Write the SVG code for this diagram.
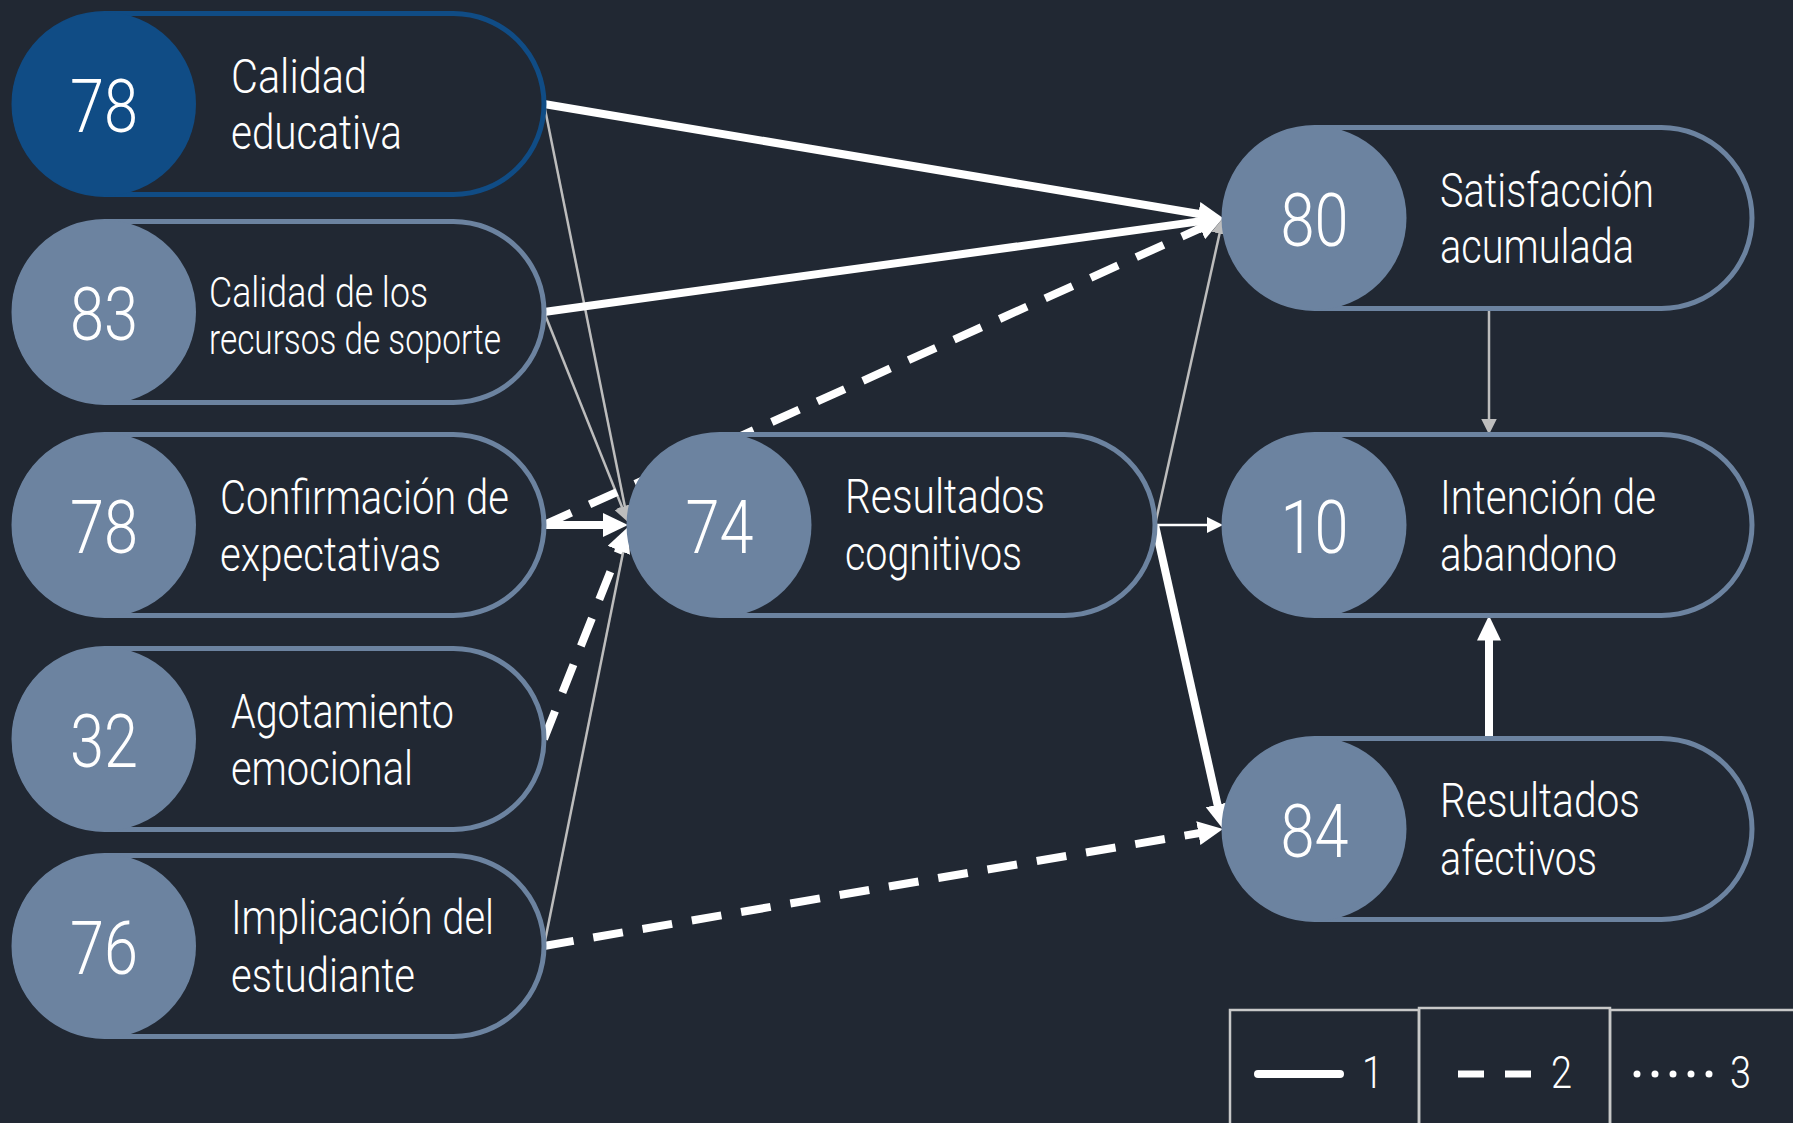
<svg xmlns="http://www.w3.org/2000/svg" width="1793" height="1123" viewBox="0 0 1793 1123">
<defs>
<style>
.pill{fill:#212833;stroke:#6C83A0;stroke-width:5}
.pill.hl{stroke:#104C85}
.dot{fill:#6C83A0}
.dot.hl{fill:#104C85}
.num{font-family:Roboto,"Liberation Sans",sans-serif;font-weight:300;font-size:74px;fill:#fff;text-anchor:middle}
.lbl{font-family:Roboto,"Liberation Sans",sans-serif;font-weight:300;font-size:48px;fill:#fff}
.lbl.sm{font-size:42px}
.thick{stroke:#fff;stroke-width:8;fill:none;marker-end:url(#ah)}
.dash{stroke-dasharray:30 20}
.thin{stroke:#fff;stroke-width:2.5;fill:none;marker-end:url(#aw)}
.gray{stroke:#BDBDBD;stroke-width:2.5;fill:none;marker-end:url(#ag)}
.leg{fill:none;stroke:#C8C8C8;stroke-width:2.5}
.legt{font-family:Roboto,"Liberation Sans",sans-serif;font-weight:300;font-size:45px;fill:#fff}
</style>
<marker id="ah" markerUnits="userSpaceOnUse" markerWidth="25" markerHeight="24" refX="10" refY="12" orient="auto"><path d="M0,0 L25,12 L0,24 z" fill="#fff"/></marker>
<marker id="aw" markerUnits="userSpaceOnUse" markerWidth="16" markerHeight="16" refX="8" refY="8" orient="auto"><path d="M0,0 L16,8 L0,16 z" fill="#fff"/></marker>
<marker id="ag" markerUnits="userSpaceOnUse" markerWidth="16" markerHeight="16" refX="8" refY="8" orient="auto"><path d="M0,0 L16,8 L0,16 z" fill="#BDBDBD"/></marker>
</defs>
<rect x="0" y="0" width="1793" height="1123" fill="#212833"/>
<g id="connectors">
<line class="gray" x1="544" y1="104" x2="626.4" y2="514.2"/>
<line class="gray" x1="544" y1="312" x2="625" y2="514.6"/>
<line class="gray" x1="544" y1="946" x2="626.4" y2="535.8"/>
<line class="gray" x1="1155" y1="525" x2="1221.3" y2="225.8"/>
<line class="gray" x1="1489" y1="308" x2="1489" y2="426.5"/>
<line class="thick" x1="544" y1="104" x2="1208.2" y2="215.5"/>
<line class="thick" x1="544" y1="312" x2="1208.1" y2="220.1"/>
<line class="thick dash" x1="544" y1="525" x2="1209.3" y2="224.2"/>
<line class="thick" x1="544" y1="525" x2="613" y2="525"/>
<line class="thick dash" x1="544" y1="739" x2="622.5" y2="541"/>
<line class="thin" x1="1155" y1="525" x2="1215" y2="525"/>
<line class="thick" x1="1155" y1="525" x2="1219.7" y2="814.4"/>
<line class="thick dash" x1="544" y1="946" x2="1208.2" y2="831.5"/>
<line class="thick" x1="1489" y1="738" x2="1489" y2="630.5"/>
</g>
<g id="n-calidad-educativa">
<rect class="pill hl" x="14" y="13.5" width="530" height="181" rx="90.5"/>
<circle class="dot hl" cx="104" cy="104" r="92"/>
<text class="num" x="104" y="132" textLength="68" lengthAdjust="spacingAndGlyphs">78</text>
<text class="lbl" x="231" y="93" textLength="136" lengthAdjust="spacingAndGlyphs">Calidad</text>
<text class="lbl" x="231" y="149" textLength="171" lengthAdjust="spacingAndGlyphs">educativa</text>
</g>
<g id="n-calidad-recursos">
<rect class="pill" x="14" y="221.5" width="530" height="181" rx="90.5"/>
<circle class="dot" cx="104" cy="312" r="92"/>
<text class="num" x="104" y="340" textLength="68" lengthAdjust="spacingAndGlyphs">83</text>
<text class="lbl sm" x="209" y="307" textLength="219" lengthAdjust="spacingAndGlyphs">Calidad de los</text>
<text class="lbl sm" x="209" y="354" textLength="292" lengthAdjust="spacingAndGlyphs">recursos de soporte</text>
</g>
<g id="n-confirmacion">
<rect class="pill" x="14" y="434.5" width="530" height="181" rx="90.5"/>
<circle class="dot" cx="104" cy="525" r="92"/>
<text class="num" x="104" y="553" textLength="68" lengthAdjust="spacingAndGlyphs">78</text>
<text class="lbl" x="220" y="514" textLength="289" lengthAdjust="spacingAndGlyphs">Confirmación de</text>
<text class="lbl" x="220" y="571" textLength="221" lengthAdjust="spacingAndGlyphs">expectativas</text>
</g>
<g id="n-agotamiento">
<rect class="pill" x="14" y="648.5" width="530" height="181" rx="90.5"/>
<circle class="dot" cx="104" cy="739" r="92"/>
<text class="num" x="104" y="767" textLength="68" lengthAdjust="spacingAndGlyphs">32</text>
<text class="lbl" x="231" y="728" textLength="223" lengthAdjust="spacingAndGlyphs">Agotamiento</text>
<text class="lbl" x="231" y="785" textLength="182" lengthAdjust="spacingAndGlyphs">emocional</text>
</g>
<g id="n-implicacion">
<rect class="pill" x="14" y="855.5" width="530" height="181" rx="90.5"/>
<circle class="dot" cx="104" cy="946" r="92"/>
<text class="num" x="104" y="974" textLength="68" lengthAdjust="spacingAndGlyphs">76</text>
<text class="lbl" x="231" y="934" textLength="263" lengthAdjust="spacingAndGlyphs">Implicación del</text>
<text class="lbl" x="231" y="992" textLength="184" lengthAdjust="spacingAndGlyphs">estudiante</text>
</g>
<g id="n-resultados-cognitivos">
<rect class="pill" x="629" y="434.5" width="526" height="181" rx="90.5"/>
<circle class="dot" cx="719.5" cy="525" r="92"/>
<text class="num" x="719.5" y="553" textLength="68" lengthAdjust="spacingAndGlyphs">74</text>
<text class="lbl" x="845" y="513" textLength="200" lengthAdjust="spacingAndGlyphs">Resultados</text>
<text class="lbl" x="845" y="570" textLength="177" lengthAdjust="spacingAndGlyphs">cognitivos</text>
</g>
<g id="n-satisfaccion">
<rect class="pill" x="1224" y="127.5" width="528" height="181" rx="90.5"/>
<circle class="dot" cx="1314.5" cy="218" r="92"/>
<text class="num" x="1314.5" y="246" textLength="68" lengthAdjust="spacingAndGlyphs">80</text>
<text class="lbl" x="1440" y="207" textLength="214" lengthAdjust="spacingAndGlyphs">Satisfacción</text>
<text class="lbl" x="1440" y="263" textLength="194" lengthAdjust="spacingAndGlyphs">acumulada</text>
</g>
<g id="n-intencion">
<rect class="pill" x="1224" y="434.5" width="528" height="181" rx="90.5"/>
<circle class="dot" cx="1314.5" cy="525" r="92"/>
<text class="num" x="1314.5" y="553" textLength="68" lengthAdjust="spacingAndGlyphs">10</text>
<text class="lbl" x="1440" y="514" textLength="216" lengthAdjust="spacingAndGlyphs">Intención de</text>
<text class="lbl" x="1440" y="571" textLength="177" lengthAdjust="spacingAndGlyphs">abandono</text>
</g>
<g id="n-resultados-afectivos">
<rect class="pill" x="1224" y="738.5" width="528" height="181" rx="90.5"/>
<circle class="dot" cx="1314.5" cy="829" r="92"/>
<text class="num" x="1314.5" y="857" textLength="68" lengthAdjust="spacingAndGlyphs">84</text>
<text class="lbl" x="1440" y="817" textLength="200" lengthAdjust="spacingAndGlyphs">Resultados</text>
<text class="lbl" x="1440" y="875" textLength="157" lengthAdjust="spacingAndGlyphs">afectivos</text>
</g>
<g id="legend">
<rect class="leg" x="1230" y="1010" width="189" height="130"/>
<rect class="leg" x="1419" y="1008" width="191" height="132"/>
<rect class="leg" x="1610" y="1010" width="200" height="130"/>
<line x1="1258" y1="1074" x2="1340" y2="1074" stroke="#fff" stroke-width="8" stroke-linecap="round"/>
<text class="legt" x="1362" y="1088" textLength="21" lengthAdjust="spacingAndGlyphs">1</text>
<line x1="1458" y1="1074" x2="1531" y2="1074" stroke="#fff" stroke-width="7" stroke-dasharray="26 21"/>
<text class="legt" x="1551" y="1088" textLength="21" lengthAdjust="spacingAndGlyphs">2</text>
<g fill="#fff"><circle cx="1637" cy="1074" r="3.5"/><circle cx="1655" cy="1074" r="3.5"/><circle cx="1673" cy="1074" r="3.5"/><circle cx="1691" cy="1074" r="3.5"/><circle cx="1709" cy="1074" r="3.5"/></g>
<text class="legt" x="1730" y="1088" textLength="21" lengthAdjust="spacingAndGlyphs">3</text>
</g>
</svg>
